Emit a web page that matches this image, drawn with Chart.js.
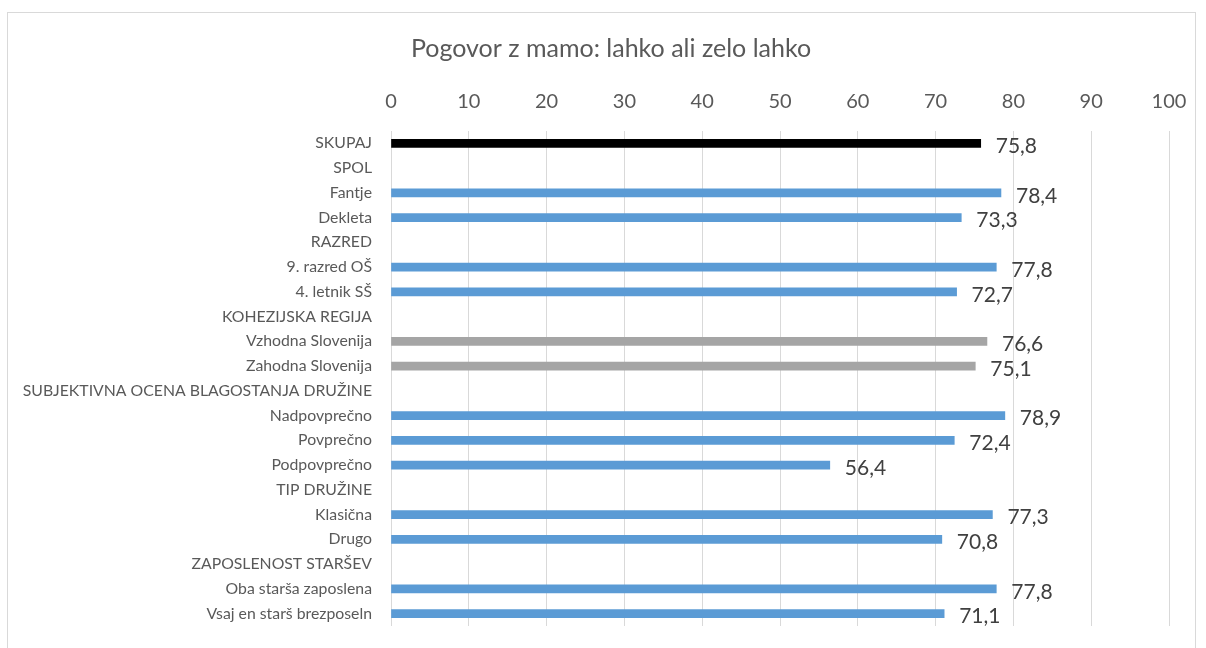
<!DOCTYPE html>
<html>
<head>
<meta charset="utf-8">
<script src="https://cdn.jsdelivr.net/npm/chart.js@4/dist/chart.umd.min.js"></script>
<style>
    html, body { margin: 0; padding: 0; background: #fff; }
    #frame {
        position: absolute; left: 7px; top: 12px; width: 1189px; height: 660px;
        border: 1px solid #d9d9d9; box-sizing: border-box;
    }
    #chart { position: absolute; left: 0; top: 0; }
</style>
</head>
<body>
<div id="frame"></div>
<canvas id="chart" width="1206" height="648"></canvas>
<script>
const titleText = 'Pogovor z mamo: lahko ali zelo lahko';

const categories = [
    'SKUPAJ', 'SPOL', 'Fantje', 'Dekleta', 'RAZRED', '9. razred OŠ', '4. letnik SŠ',
    'KOHEZIJSKA REGIJA', 'Vzhodna Slovenija', 'Zahodna Slovenija',
    'SUBJEKTIVNA OCENA BLAGOSTANJA DRUŽINE', 'Nadpovprečno', 'Povprečno', 'Podpovprečno',
    'TIP DRUŽINE', 'Klasična', 'Drugo', 'ZAPOSLENOST STARŠEV',
    'Oba starša zaposlena', 'Vsaj en starš brezposeln'
];

const values = [
    75.8, null, 78.4, 73.3, null, 77.8, 72.7,
    null, 76.6, 75.1,
    null, 78.9, 72.4, 56.4,
    null, 77.3, 70.8, null,
    77.8, 71.1
];

const BLACK = '#000000', BLUE = '#5b9bd5', GRAY = '#a5a5a5';
const barColors = [
    BLACK, null, BLUE, BLUE, null, BLUE, BLUE,
    null, GRAY, GRAY,
    null, BLUE, BLUE, BLUE,
    null, BLUE, BLUE, null,
    BLUE, BLUE
];

const FONT = 'Lato, "Open Sans", sans-serif';

// value labels at the end of each bar, plus the title (a bit right of canvas centre, like the original)
const valueLabels = {
    id: 'valueLabels',
    afterDatasetsDraw(chart) {
        const ctx = chart.ctx;
        const meta = chart.getDatasetMeta(0);
        ctx.save();
        ctx.font = '21px ' + FONT;
        ctx.fillStyle = '#404040';
        ctx.textAlign = 'left';
        ctx.textBaseline = 'middle';
        meta.data.forEach((bar, i) => {
            if (values[i] == null) return;
            ctx.fillText(values[i].toFixed(1).replace('.', ','), bar.x + 15, bar.y + 3);
        });

        ctx.font = '25px ' + FONT;
        ctx.fillStyle = '#595959';
        ctx.textAlign = 'center';
        ctx.fillText(titleText, 611, 49);
        ctx.restore();
    }
};

new Chart(document.getElementById('chart'), {
    type: 'bar',
    data: {
        labels: categories,
        datasets: [{
            data: values,
            backgroundColor: barColors,
            barThickness: 8
        }]
    },
    options: {
        responsive: false,
        animation: false,
        indexAxis: 'y',
        layout: { padding: { left: 0, right: 37, top: 63, bottom: 22 } },
        plugins: {
            legend: { display: false },
            tooltip: { enabled: false },
            title: { display: false }
        },
        scales: {
            x: {
                position: 'top',
                min: 0,
                max: 100,
                ticks: {
                    stepSize: 10,
                    color: '#595959',
                    font: { family: FONT, size: 20 },
                    padding: 17,
                    maxRotation: 0
                },
                grid: { color: '#d9d9d9', drawTicks: false },
                border: { display: false },
                afterFit(scale) { scale.height = 68; }
            },
            y: {
                ticks: {
                    color: '#595959',
                    font: { family: FONT, size: 15.8 },
                    padding: 19,
                    autoSkip: false
                },
                grid: { display: false, drawTicks: false },
                border: { display: false },
                afterFit(scale) {
                    scale.width = 391;
                    scale.paddingTop = 0;
                    scale.paddingBottom = 0;
                }
            }
        }
    },
    plugins: [valueLabels]
});
</script>
</body>
</html>
